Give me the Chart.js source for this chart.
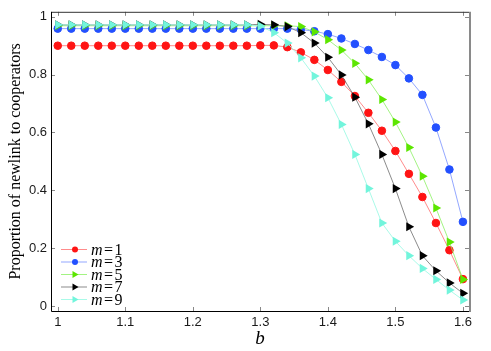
<!DOCTYPE html>
<html>
<head>
<meta charset="utf-8">
<script src="https://cdn.jsdelivr.net/npm/chart.js@4.4.1/dist/chart.umd.min.js"></script>
<style>
  html, body { margin: 0; padding: 0; background: #fff; }
  #wrap { position: relative; width: 491px; height: 351px; }
</style>
</head>
<body>
<div id="wrap"><canvas id="newlinkChart"></canvas></div>
<script>
// b values (x axis)
const bValues = [1.00, 1.02, 1.04, 1.06, 1.08, 1.10, 1.12, 1.14, 1.16, 1.18,
                 1.20, 1.22, 1.24, 1.26, 1.28, 1.30, 1.32, 1.34, 1.36, 1.38,
                 1.40, 1.42, 1.44, 1.46, 1.48, 1.50, 1.52, 1.54, 1.56, 1.58, 1.60];

// proportion of newlink to cooperators, one array per m
const m1 = [0.900, 0.900, 0.900, 0.900, 0.900, 0.900, 0.900, 0.900, 0.900, 0.900,
            0.900, 0.900, 0.900, 0.900, 0.900, 0.901, 0.901, 0.895, 0.877, 0.851,
            0.816, 0.775, 0.726, 0.668, 0.606, 0.536, 0.457, 0.377, 0.287, 0.193, 0.093];
const m3 = [0.959, 0.959, 0.959, 0.959, 0.959, 0.959, 0.959, 0.959, 0.959, 0.959,
            0.959, 0.959, 0.959, 0.959, 0.959, 0.959, 0.959, 0.959, 0.956, 0.950,
            0.940, 0.925, 0.906, 0.885, 0.861, 0.833, 0.787, 0.730, 0.617, 0.472, 0.291];
const m5 = [0.969, 0.969, 0.969, 0.969, 0.969, 0.969, 0.969, 0.969, 0.969, 0.969,
            0.969, 0.969, 0.969, 0.969, 0.969, 0.969, 0.969, 0.969, 0.966, 0.948,
            0.921, 0.885, 0.839, 0.782, 0.714, 0.636, 0.548, 0.449, 0.339, 0.221, 0.092];
const m7 = [0.972, 0.972, 0.972, 0.972, 0.972, 0.972, 0.972, 0.972, 0.972, 0.972,
            0.972, 0.972, 0.972, 0.972, 0.972, 0.974, 0.972, 0.966, 0.945, 0.909,
            0.860, 0.799, 0.722, 0.630, 0.524, 0.406, 0.274, 0.174, 0.122, 0.080, 0.044];
const m9 = [0.972, 0.972, 0.972, 0.972, 0.972, 0.972, 0.972, 0.972, 0.972, 0.972,
            0.972, 0.972, 0.972, 0.972, 0.972, 0.968, 0.945, 0.909, 0.858, 0.795,
            0.720, 0.628, 0.524, 0.406, 0.287, 0.224, 0.174, 0.130, 0.092, 0.055, 0.021];

const seriesNames = ['1', '3', '5', '7', '9'];
const xTicks = [1, 1.1, 1.2, 1.3, 1.4, 1.5, 1.6];
const yTicks = [0, 0.2, 0.4, 0.6, 0.8, 1];

const toPoints = vals => vals.map((v, i) => ({ x: bValues[i], y: v }));

function makeSet(name, vals, color, lineColor, style, order) {
  const tri = style === 'triangle';
  return {
    label: 'm=' + name,
    data: toPoints(vals),
    borderColor: lineColor,
    borderWidth: 1,
    backgroundColor: color,
    pointBackgroundColor: color,
    pointBorderColor: color,
    pointBorderWidth: tri ? 0 : 1,
    pointStyle: style,
    pointRotation: tri ? 90 : 0,
    pointRadius: tri ? 5.3 : 3.8,
    tension: 0,
    order: order
  };
}

const datasets = [
  makeSet(seriesNames[0], m1, '#ff1414', 'rgba(255,110,110,0.8)', 'circle', 5),
  makeSet(seriesNames[1], m3, '#2350ff', 'rgba(120,145,255,0.8)', 'circle', 4),
  makeSet(seriesNames[2], m5, '#5ce600', 'rgba(140,240,100,0.8)', 'triangle', 3),
  makeSet(seriesNames[3], m7, '#000000', 'rgba(110,110,110,0.8)', 'triangle', 2),
  makeSet(seriesNames[4], m9, '#72f5dc', 'rgba(160,250,230,0.9)', 'triangle', 1)
];

// box with inward tick marks
const framePlugin = {
  id: 'frame',
  afterDraw(chart) {
    const { ctx, chartArea: a, scales: { x, y } } = chart;
    ctx.save();
    ctx.lineWidth = 1;
    ctx.strokeStyle = '#888';
    ctx.beginPath();
    xTicks.forEach(v => {
      const px = Math.round(x.getPixelForValue(v)) + 0.5;
      ctx.moveTo(px, a.bottom); ctx.lineTo(px, a.bottom - 4);
      ctx.moveTo(px, a.top); ctx.lineTo(px, a.top + 4);
    });
    yTicks.forEach(v => {
      const py = Math.round(y.getPixelForValue(v)) + 0.5;
      ctx.moveTo(a.left, py); ctx.lineTo(a.left + 4, py);
      ctx.moveTo(a.right, py); ctx.lineTo(a.right - 4, py);
    });
    ctx.stroke();

    ctx.strokeStyle = '#333';
    ctx.beginPath();
    ctx.moveTo(a.left + 0.5, a.top + 0.5);
    ctx.lineTo(a.right, a.top + 0.5);
    ctx.stroke();
    ctx.strokeStyle = '#000';
    ctx.beginPath();
    ctx.moveTo(a.left + 0.5, a.top);
    ctx.lineTo(a.left + 0.5, a.bottom + 0.5);
    ctx.lineTo(a.right + 1, a.bottom + 0.5);
    ctx.stroke();
    ctx.strokeStyle = '#8a8a8a';
    ctx.lineWidth = 2;
    ctx.beginPath();
    ctx.moveTo(a.right + 1, a.top);
    ctx.lineTo(a.right + 1, a.bottom + 1);
    ctx.stroke();
    ctx.restore();
  }
};

// legend in the lower left corner of the plot
const legendPlugin = {
  id: 'innerLegend',
  afterDraw(chart) {
    const { ctx, chartArea: a } = chart;
    const x0 = a.left + 10, x1 = a.left + 36, xm = a.left + 24;
    const rowY = [249.5, 262, 274.5, 287, 299.5];
    ctx.save();
    chart.data.datasets.forEach((ds, i) => {
      const yy = rowY[i];
      ctx.strokeStyle = ds.borderColor;
      ctx.lineWidth = 1;
      ctx.beginPath();
      ctx.moveTo(x0, yy); ctx.lineTo(x1, yy);
      ctx.stroke();
      ctx.fillStyle = ds.pointBackgroundColor;
      ctx.beginPath();
      if (ds.pointStyle === 'circle') {
        ctx.arc(xm, yy, 3, 0, Math.PI * 2);
      } else {
        ctx.moveTo(xm + 3.5, yy);
        ctx.lineTo(xm - 2.5, yy - 3.5);
        ctx.lineTo(xm - 2.5, yy + 3.5);
        ctx.closePath();
      }
      ctx.fill();

      ctx.fillStyle = '#000';
      ctx.textBaseline = 'alphabetic';
      const base = yy + 5;
      let tx = a.left + 40;
      ctx.font = 'italic 16px "Liberation Serif", "DejaVu Serif", serif';
      ctx.fillText('m', tx, base);
      tx += ctx.measureText('m').width + 1.5;
      ctx.font = '16px "Liberation Serif", "DejaVu Serif", serif';
      ctx.fillText('=', tx, base);
      tx += ctx.measureText('=').width + 1.5;
      ctx.fillText(seriesNames[i], tx, base);
    });
    ctx.restore();
  }
};

const tickFont = { family: '"Liberation Sans", Arial, sans-serif', size: 13 };

new Chart(document.getElementById('newlinkChart'), {
  type: 'line',
  data: { datasets: datasets },
  options: {
    responsive: true,
    maintainAspectRatio: false,
    animation: false,
    layout: { padding: { left: 0, top: 11, right: 22, bottom: 0 } },
    plugins: {
      legend: { display: false },
      tooltip: { enabled: false }
    },
    scales: {
      x: {
        type: 'linear',
        min: 0.99,
        max: 1.609,
        afterBuildTicks: scale => { scale.ticks = xTicks.map(v => ({ value: v })); },
        afterFit: scale => { scale.height = 40; },
        ticks: {
          font: tickFont,
          color: '#1a1a1a',
          padding: 4,
          maxRotation: 0,
          callback: v => String(v)
        },
        grid: { display: false, drawTicks: false },
        border: { display: false },
        title: {
          display: true,
          text: 'b',
          color: '#000',
          font: { family: '"Liberation Serif", serif', size: 19, style: 'italic' },
          padding: { top: 0, bottom: 1 }
        }
      },
      y: {
        type: 'linear',
        min: -0.0172,
        max: 1.0172,
        afterBuildTicks: scale => { scale.ticks = yTicks.map(v => ({ value: v })); },
        afterFit: scale => { scale.width = 51; },
        ticks: {
          font: tickFont,
          color: '#1a1a1a',
          padding: 4,
          callback: v => String(v)
        },
        grid: { display: false, drawTicks: false },
        border: { display: false },
        title: {
          display: true,
          text: 'Proportion of newlink to cooperators',
          color: '#000',
          font: { family: '"Liberation Serif", serif', size: 16 },
          padding: { top: 6, bottom: 0 }
        }
      }
    }
  },
  plugins: [framePlugin, legendPlugin]
});
</script>
</body>
</html>
